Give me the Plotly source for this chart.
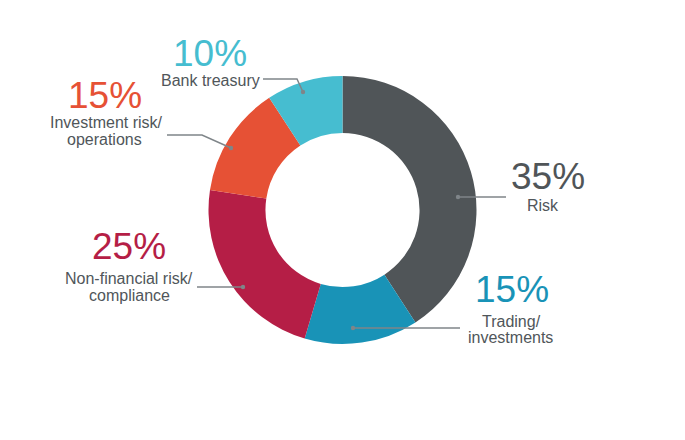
import plotly.graph_objects as go

categories = ["Risk", "Trading/<br>investments", "Non-financial risk/<br>compliance",
              "Investment risk/<br>operations", "Bank treasury"]
slice_values = [40.8, 13.7, 22.8, 13.4, 9.2]
pct_labels = ["35%", "15%", "25%", "15%", "10%"]
colors = ["#505558", "#1993b7", "#b51e46", "#e65135", "#46bdd0"]

W, H = 685, 440
OFF = 8  # page body margin
TEXT_GRAY = "#50565a"
LINE_GRAY = "#7f8589"
FONT = "Liberation Sans, Arial, sans-serif"

def px(x):
    return (x - OFF) / W

def py(y):
    return 1 - (y - OFF) / H

cx, cy, R = 342.5, 210, 134

fig = go.Figure(go.Pie(
    labels=[c.replace("<br>", " ") for c in categories],
    values=slice_values,
    sort=False,
    direction="clockwise",
    rotation=0,
    hole=0.575,
    marker=dict(colors=colors, line=dict(width=0)),
    textinfo="none",
    hoverinfo="label+percent",
    domain=dict(x=[px(cx - R), px(cx + R)], y=[py(cy + R), py(cy - R)]),
    showlegend=False,
))

# label layout: (pct centre x, pct centre y, [(line centre x, cap-centre y)])
label_pos = [
    (547.5, 176, [(542.5, 206)]),
    (511.5, 289, [(511, 321), (510, 337)]),
    (128.5, 246.5, [(129.5, 278), (129, 295)]),
    (105, 95, [(106.5, 122.5), (104, 139.5)]),
    (210, 53.5, [(210.5, 80.3)]),
]

annotations = []
for i, (pxc, pyc, lines) in enumerate(label_pos):
    annotations.append(dict(
        x=px(pxc), y=py(pyc), xref="paper", yref="paper",
        text=pct_labels[i], showarrow=False, xanchor="center", yanchor="middle",
        font=dict(family=FONT, size=37, color=colors[i]),
    ))
    for j, (lx, ly) in enumerate(lines):
        annotations.append(dict(
            x=px(lx), y=py(ly), xref="paper", yref="paper",
            text=categories[i].split("<br>")[j], showarrow=False,
            xanchor="center", yanchor="middle",
            font=dict(family=FONT, size=16, color=TEXT_GRAY),
        ))

# leader lines (pixel paths) ending in a small dot inside the slice
leaders = [
    [(506, 197), (458, 197)],
    [(460, 328), (353, 328)],
    [(197, 287), (243, 287)],
    [(167, 135), (202, 135), (231, 148)],
    [(263, 79), (297, 79), (303, 92)],
]

shapes = []
for pts in leaders:
    path = "M " + " L ".join(f"{px(x)},{py(y)}" for x, y in pts)
    shapes.append(dict(type="path", xref="paper", yref="paper", path=path,
                       line=dict(color=LINE_GRAY, width=1.5)))
    ex, ey = pts[-1]
    r = 2.2
    shapes.append(dict(type="circle", xref="paper", yref="paper",
                       x0=px(ex - r), x1=px(ex + r), y0=py(ey + r), y1=py(ey - r),
                       fillcolor=LINE_GRAY, line=dict(width=0)))

fig.update_layout(
    width=W, height=H,
    margin=dict(l=0, r=0, t=0, b=0),
    paper_bgcolor="white", plot_bgcolor="white",
    annotations=annotations, shapes=shapes,
)

fig.write_html("out.html")
